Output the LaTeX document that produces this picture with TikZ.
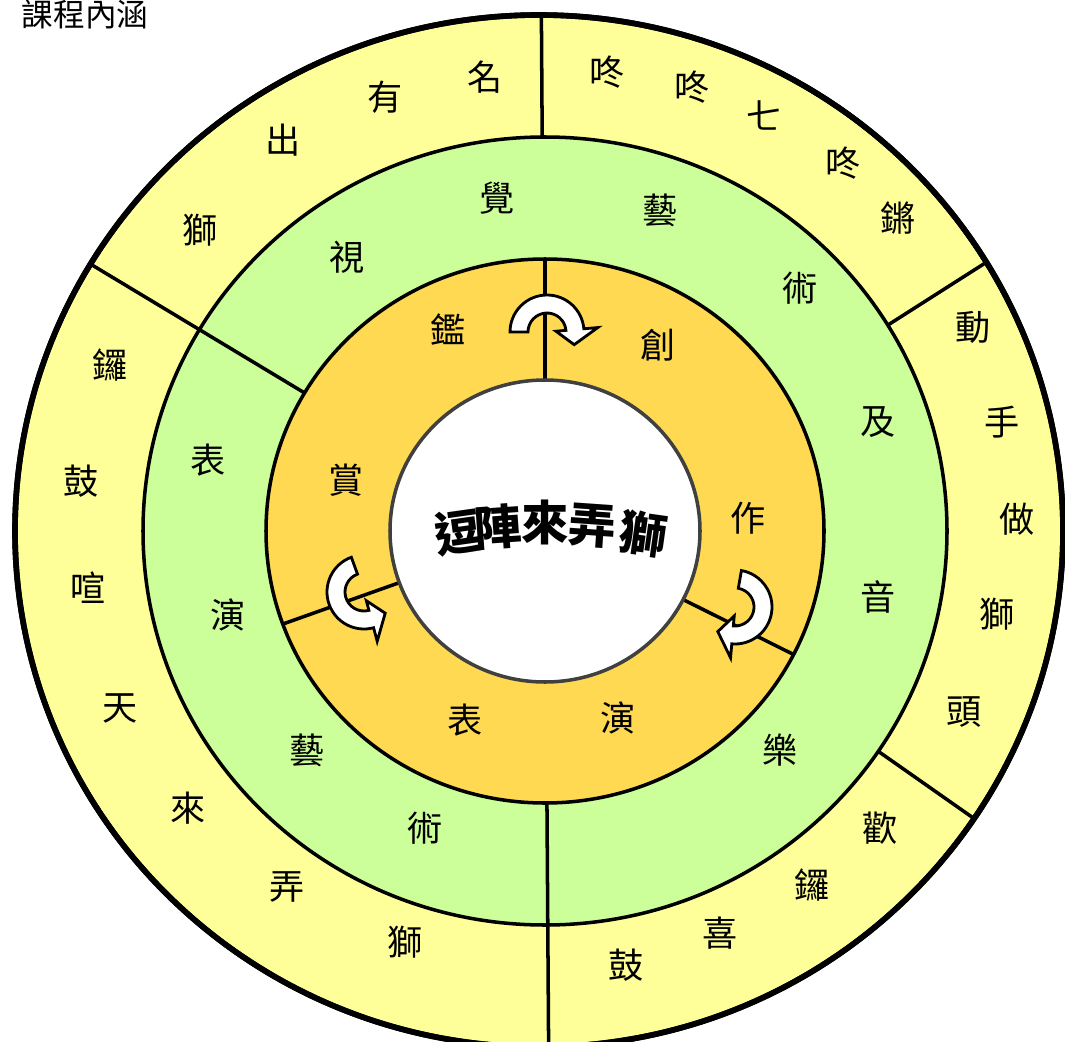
\documentclass[tikz,border=0pt]{standalone}
\usepackage{fontspec}
\setmainfont{Noto Sans CJK TC}
\usetikzlibrary{calc}
\definecolor{ringyellow}{RGB}{255,255,153}
\definecolor{ringgreen}{RGB}{204,255,153}
\definecolor{ringorange}{RGB}{255,217,81}
\tikzset{
  ringtext/.style={inner sep=0pt, font=\fontsize{10}{12}\selectfont},
  hubtext/.style={inner sep=0pt, font=\fontsize{13.5}{15}\selectfont\bfseries},
  divider/.style={line width=1pt},
  turnarrow/.style={draw=black, fill=white, line width=0.8pt}
}
% curved cycle arrow, drawn round its own centre
\newcommand{\cyclearrow}[1]{%
  \draw[turnarrow,#1] (180:0.37) arc[start angle=180, end angle=5, radius=0.37]
    -- (5:0.51) -- (-25:0.30) -- (5:0.09) -- (5:0.19)
    arc[start angle=5, end angle=180, radius=0.19] -- cycle;}
\begin{document}
\begin{tikzpicture}
  \useasboundingbox (0,0) rectangle (10.65,10.41);
  \coordinate (c) at (5.45,5.10);
  \coordinate (co) at (5.39,5.10);
  % rings
  \filldraw[fill=ringyellow, line width=1.6pt] (co) ellipse [x radius=5.24, y radius=5.16];
  \filldraw[fill=ringgreen, line width=1pt] (c) ellipse [x radius=4.02, y radius=3.94];
  \filldraw[fill=ringorange, line width=1pt] (c) ellipse [x radius=2.79, y radius=2.72];
  % dividers
  \begin{scope}
    \clip (co) ellipse [x radius=5.24, y radius=5.16];
    \foreach \a in {90.4,31.5,-34}
      \draw[divider] ($(c)+(\a:4.02 and 3.94)$) -- ($(c)+(\a:6 and 6)$);
    \foreach \a in {149.5,-89.6}
      \draw[divider] ($(c)+(\a:2.79 and 2.72)$) -- ($(c)+(\a:6 and 6)$);
  \end{scope}
  \draw[line width=1.6pt] (co) ellipse [x radius=5.24, y radius=5.16];
  \foreach \a in {90,200,-27}
    \draw[divider] ($(c)+(\a:1.55 and 1.51)$) -- ($(c)+(\a:2.79 and 2.72)$);
  % hub
  \filldraw[fill=white, draw=black!75, line width=1pt] (c) ellipse [x radius=1.55, y radius=1.51];
  \node[hubtext, rotate=8] (hub1) at (4.58,5.09) {逗};
  \node[hubtext, rotate=4] (hub2) at (4.98,5.14) {陣};
  \node[hubtext] (hub3) at (5.45,5.19) {來};
  \node[hubtext, rotate=-4] (hub4) at (5.92,5.15) {弄};
  \node[hubtext, rotate=-8] (hub5) at (6.43,5.07) {獅};
  % title
  \node[inner sep=0pt, font=\fontsize{9}{11}\selectfont] (title) at (0.85,10.27) {課程內涵};
  % outer ring
  \foreach \ch/\x/\y [count=\i] in {獅/2.00/8.11, 出/2.83/9.01, 有/3.85/9.44, 名/4.85/9.64,
      咚/6.07/9.69, 咚/6.92/9.54, 七/7.64/9.26, 咚/8.43/8.78, 鏘/8.98/8.23,
      動/9.73/7.14, 手/10.02/6.19, 做/10.17/5.22, 獅/9.97/4.27, 頭/9.64/3.29,
      歡/8.80/2.13, 鑼/8.12/1.56, 喜/7.20/1.08, 鼓/6.26/0.76,
      鑼/1.10/6.76, 鼓/0.81/5.60, 喧/0.88/4.53, 天/1.20/3.33, 來/1.88/2.33, 弄/2.87/1.54, 獅/4.05/0.99}
    \node[ringtext] (outer\i) at (\x,\y) {\ch};
  % middle ring
  \foreach \ch/\x/\y [count=\i] in {視/3.47/7.84, 覺/4.97/8.43, 藝/6.60/8.31, 術/8.00/7.53,
      及/8.78/6.19, 音/8.78/4.44, 樂/7.80/2.91,
      表/2.08/5.81, 演/2.28/4.26, 藝/3.07/2.91, 術/4.25/2.13}
    \node[ringtext] (mid\i) at (\x,\y) {\ch};
  % inner ring
  \foreach \ch/\x/\y [count=\i] in {鑑/4.48/7.11, 賞/3.46/5.61, 創/6.58/6.96, 作/7.48/5.23,
      表/4.65/3.21, 演/6.18/3.23}
    \node[ringtext] (inner\i) at (\x,\y) {\ch};
  % cycle arrows
  \cyclearrow{shift={(5.47,7.09)}}
  \cyclearrow{shift={(3.64,4.49)}, rotate=110, xscale=-1}
  \cyclearrow{shift={(7.35,4.34)}, rotate=-100}
\end{tikzpicture}
\end{document}
